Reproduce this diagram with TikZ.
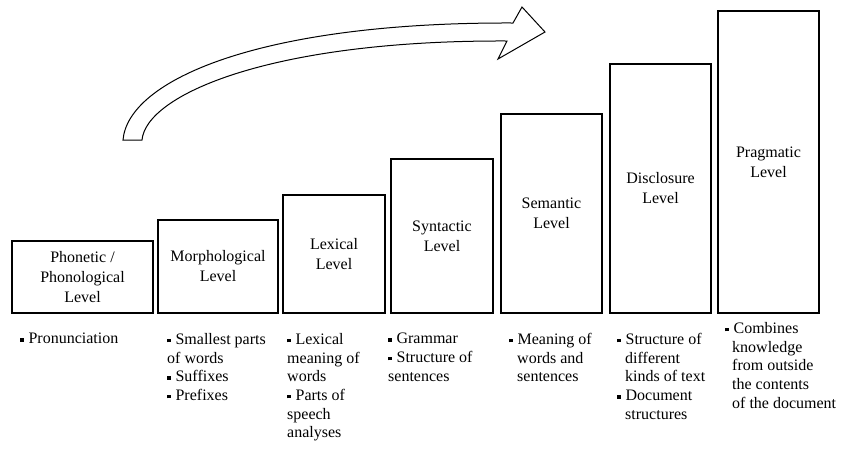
\documentclass[tikz,border=0pt]{standalone}
\usepackage{fontspec}
\setmainfont{Liberation Serif}
\newcommand\mybul{\raisebox{0.28ex}{\rule{3.4pt}{3.4pt}}\hspace{5pt}}
\begin{document}
\begin{tikzpicture}[x=1pt,y=-1pt,
  levelbox/.style={draw, line width=2.2pt, inner sep=0pt, align=center,
    font=\fontsize{16}{20}\selectfont},
  lst/.style={font=\fontsize{16}{18.7}\selectfont, align=left, anchor=north west, inner sep=0pt},
  bigarrow/.style={draw, line width=1pt, line join=miter}]
\useasboundingbox (0,0) rectangle (845,448);
% arrow
\draw[bigarrow] (123,140) .. controls (128,80) and (260,22) .. (513,23)
  -- (522,7) -- (545,32) -- (498,59) -- (507,41)
  .. controls (270,40) and (146,95) .. (142,140) -- cycle;
% level boxes
\node[levelbox, minimum width=141pt, minimum height=72pt] (b1) at (82.5,277) {Phonetic /\\Phonological\\Level};
\node[levelbox, minimum width=120pt, minimum height=93pt] (b2) at (218,266.5) {Morphological\\Level};
\node[levelbox, minimum width=102pt, minimum height=118pt] (b3) at (334,254) {Lexical\\Level};
\node[levelbox, minimum width=102pt, minimum height=154pt] (b4) at (442,236) {Syntactic\\Level};
\node[levelbox, minimum width=101pt, minimum height=199pt] (b5) at (551.5,213.5) {Semantic\\Level};
\node[levelbox, minimum width=101pt, minimum height=249pt] (b6) at (660.5,188.5) {Disclosure\\Level};
\node[levelbox, minimum width=101pt, minimum height=302pt] (b7) at (768.5,162) {Pragmatic\\Level};
% descriptions
\node[lst] (d1) at (20,333) {\mybul Pronunciation};
\node[lst] (d2) at (167,333) {\mybul Smallest parts\\of words\\\mybul Suffixes\\\mybul Prefixes};
\node[lst] (d3) at (287,333) {\mybul Lexical\\meaning of\\words\\\mybul Parts of\\speech\\analyses};
\node[lst] (d4) at (388,333) {\mybul Grammar\\\mybul Structure of\\sentences};
\node[lst] (d5) at (509,333) {\mybul Meaning of\\\hspace*{8pt}words and\\\hspace*{8pt}sentences};
\node[lst] (d6) at (617,333) {\mybul Structure of\\\hspace*{8pt}different\\\hspace*{8pt}kinds of text\\\mybul Document\\\hspace*{8pt}structures};
\node[lst] (d7) at (725,322) {\mybul Combines\\\hspace*{7pt}knowledge\\\hspace*{7pt}from outside\\\hspace*{7pt}the contents\\\hspace*{7pt}of the document};
\end{tikzpicture}
\end{document}
